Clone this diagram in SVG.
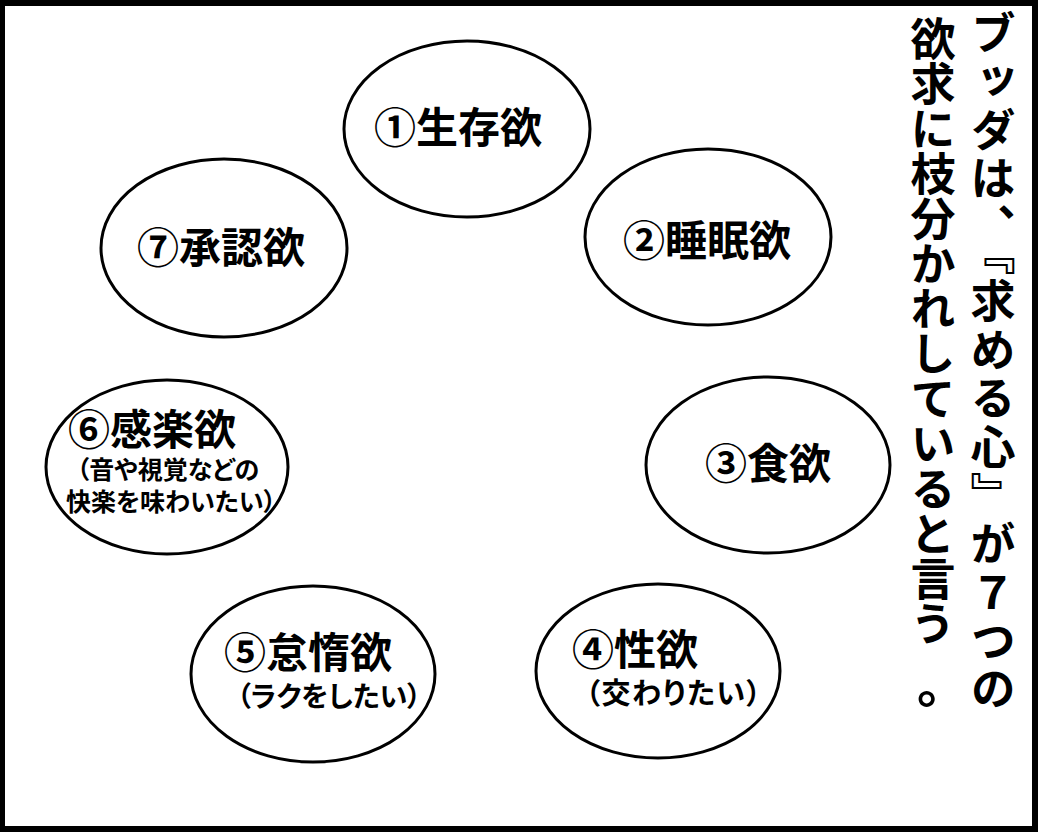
<svg xmlns="http://www.w3.org/2000/svg" width="1039" height="832" viewBox="0 0 1039 832">
<style>
.frame{fill:#fff;stroke:#000;stroke-width:6}
.node ellipse{fill:#fff;stroke:#000;stroke-width:3}
.t{font-family:"Noto Sans CJK JP","Noto Sans CJK SC",sans-serif;font-weight:bold;fill:#000;text-anchor:middle;dominant-baseline:central}
.main{font-size:42px}
.sub{font-size:28px;font-feature-settings:"palt"}
.sub4{font-size:29px;font-feature-settings:"palt";letter-spacing:1.5px}
.sub6{font-size:25px;font-feature-settings:"palt"}
.v{font-family:"Noto Sans CJK JP","Noto Sans CJK SC",sans-serif;font-weight:bold;font-size:45px;fill:#000;writing-mode:vertical-rl}
.h{font-family:"Noto Sans CJK JP","Noto Sans CJK SC",sans-serif;font-weight:bold;font-size:50px;fill:#000}
</style>
<rect class="frame" x="2" y="3" width="1033" height="826"/>
<g id="connectors"></g>
<g id="n1" class="node"><ellipse cx="467" cy="129" rx="123" ry="88"/><text class="t main" x="458" y="124">①生存欲</text></g>
<g id="n2" class="node"><ellipse cx="708" cy="237" rx="123" ry="88"/><text class="t main" x="707" y="237">②睡眠欲</text></g>
<g id="n3" class="node"><ellipse cx="768" cy="465" rx="122" ry="88"/><text class="t main" x="768" y="460">③食欲</text></g>
<g id="n4" class="node"><ellipse cx="658" cy="671" rx="122" ry="87"/><text class="t main" x="635" y="646">④性欲</text><text class="t sub4" x="674" y="691">（交わりたい）</text></g>
<g id="n5" class="node"><ellipse cx="313" cy="674" rx="122" ry="88"/><text class="t main" x="308" y="649">⑤怠惰欲</text><text class="t sub" x="329" y="695">（ラクをしたい）</text></g>
<g id="n6" class="node"><ellipse cx="167" cy="467" rx="121" ry="87"/><text class="t main" x="152" y="426">⑥感楽欲</text><text class="t sub6" x="168" y="468">（音や視覚などの</text><text class="t sub6" x="171" y="500">快楽を味わいたい）</text></g>
<g id="n7" class="node"><ellipse cx="224" cy="248" rx="123" ry="89"/><text class="t main" x="221" y="244">⑦承認欲</text></g>
<g id="caption">
<text class="v" x="993" y="10" letter-spacing="3.5">ブッダは、『求める心』が７つの</text>
<text class="v" x="933" y="16">欲求に枝分かれしていると言う</text>
<text class="h" x="917" y="703">。</text>
</g>
</svg>
